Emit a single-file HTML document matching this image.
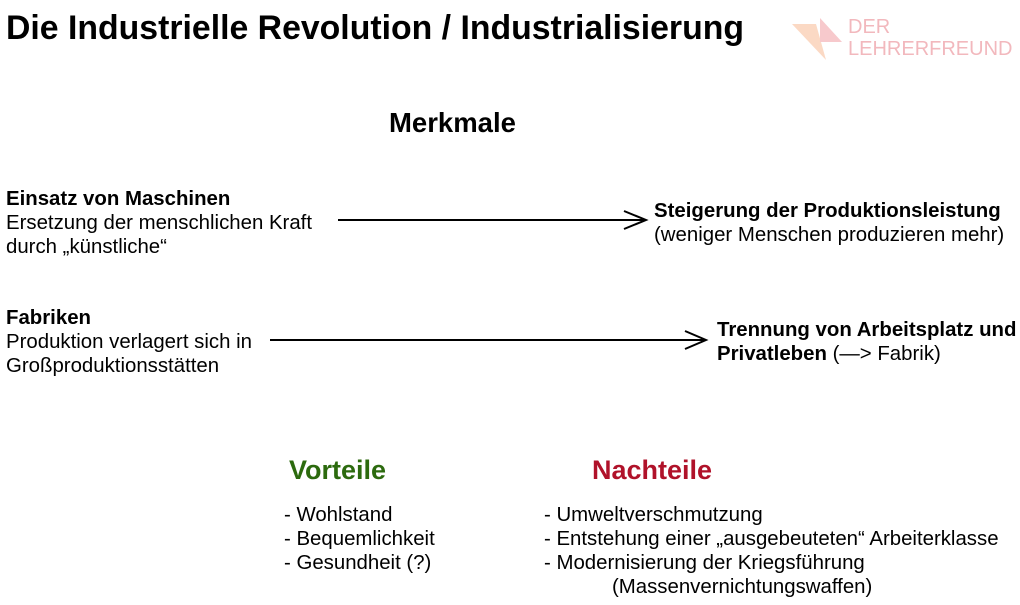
<!DOCTYPE html>
<html><head><meta charset="utf-8"><style>
body{margin:0;width:1020px;height:605px;background:#fff;position:relative;overflow:hidden;font-family:"Liberation Sans",Arial,sans-serif;color:#000}
.t{position:absolute;white-space:nowrap;font-size:20.4px;line-height:24px}
b{font-weight:bold}
</style></head><body>
<div class="t" style="left:6px;top:8px;font-size:33.8px;line-height:40px;font-weight:bold">Die Industrielle Revolution / Industrialisierung</div>
<svg style="position:absolute;left:790px;top:14px" width="60" height="48">
<polygon points="2,10 26,10 36,46" fill="#fbd9c4"/>
<polygon points="30,4 52,28 30,28" fill="#f7c9cc"/>
</svg>
<div class="t" style="left:848px;top:16px;font-size:20px;line-height:22px;color:#f2b8bd">DER<br>LEHRERFREUND</div>
<div class="t" style="left:389px;top:107px;font-size:27.5px;line-height:32px;font-weight:bold">Merkmale</div>
<div class="t" style="left:6px;top:187px"><b>Einsatz von Maschinen</b><br>Ersetzung der menschlichen Kraft<br>durch „künstliche“</div>
<div class="t" style="left:654px;top:199px"><b>Steigerung der Produktionsleistung</b><br>(weniger Menschen produzieren mehr)</div>
<div class="t" style="left:6px;top:306px"><b>Fabriken</b><br>Produktion verlagert sich in<br>Großproduktionsstätten</div>
<div class="t" style="left:717px;top:318px"><b>Trennung von Arbeitsplatz und<br>Privatleben</b> (—&gt; Fabrik)</div>
<svg style="position:absolute;left:0;top:0" width="1020" height="605">
<g stroke="#000" stroke-width="2" fill="none">
<line x1="338" y1="220" x2="646" y2="220"/><polyline points="624,211 646,220 624,229"/>
<line x1="270" y1="340" x2="706" y2="340"/><polyline points="685,331 706,340 685,349"/>
</g></svg>
<div class="t" style="left:289px;top:454px;font-size:27px;line-height:32px;font-weight:bold;color:#2c6a0e">Vorteile</div>
<div class="t" style="left:592px;top:454px;font-size:27px;line-height:32px;font-weight:bold;color:#b0122a">Nachteile</div>
<div class="t" style="left:284px;top:503px">- Wohlstand<br>- Bequemlichkeit<br>- Gesundheit (?)</div>
<div class="t" style="left:544px;top:503px">- Umweltverschmutzung<br>- Entstehung einer „ausgebeuteten“ Arbeiterklasse<br>- Modernisierung der Kriegsführung<br><span style="padding-left:68px">(Massenvernichtungswaffen)</span></div>
</body></html>
